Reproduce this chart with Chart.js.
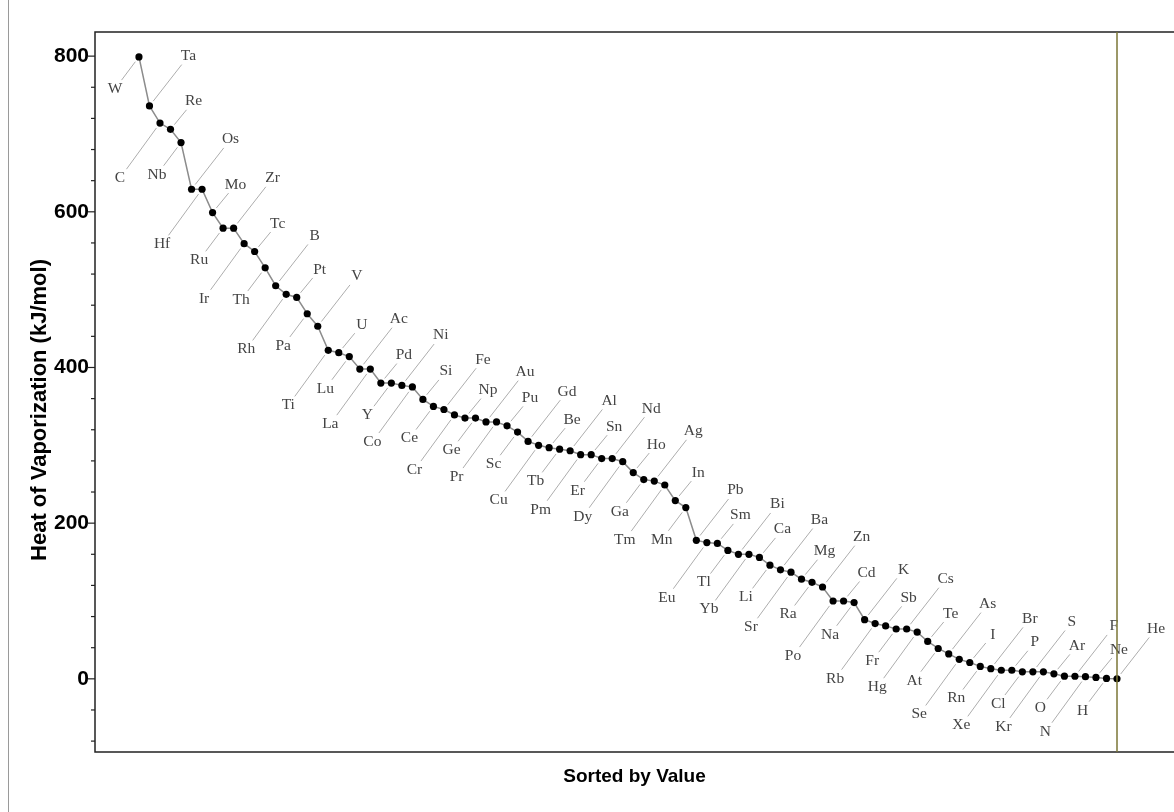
<!DOCTYPE html>
<html>
<head>
	<meta charset="UTF-8">
	<title>Heat of Vaporization</title>
	<script src="https://cdn.jsdelivr.net/npm/chart.js@4.4.1/dist/chart.umd.min.js"></script>
	<style>
		body {
			margin:0;
			padding:0;
			overflow: hidden;
			background: #fff;
		}
		#wrap {
			width:1174px;
			height:812px;
			position:relative;
		}
	</style>
</head>
<body>
	<div id="wrap"><canvas id="chart"></canvas></div>
	<script>
		// elements sorted by heat of vaporization (kJ/mol)
		const elements = ['W','Ta','C','Re','Nb','Os','Hf','Mo','Ru','Zr','Ir','Tc','Th','B','Rh','Pt','Pa','V','Ti','U',
			'Lu','Ac','La','Pd','Y','Ni','Co','Si','Ce','Fe','Cr','Np','Ge','Au','Pr','Pu','Sc','Gd','Cu','Be',
			'Tb','Al','Pm','Sn','Er','Nd','Dy','Ho','Ga','Ag','Tm','In','Mn','Pb','Eu','Sm','Tl','Bi','Yb','Ca',
			'Li','Ba','Sr','Mg','Ra','Zn','Po','Cd','Na','K','Rb','Sb','Fr','Cs','Hg','Te','At','As','Se','I',
			'Rn','Br','Xe','P','Cl','S','Kr','Ar','O','F','N','Ne','H','He'];
		const heatValues = [799,736,714,706,689,629,629,599,579,579,559,549,528,505,494,490,469,453,422,419,
			414,398,398,380,380,377,375,359,350,346,339,335,335,330,330,325,317,305,300,297,
			295,293,288,288,283,283,279,265,256,254,249,229,220,178,175,174,165,160,160,156,
			146,140,137,128,124,118,100,100,98,76,71,68,64,64,60,48,39,32,25,21,
			16,13,11,11,9,9,9,6.4,3.4,3.3,2.8,1.8,0.5,0.1];
		const yTickLabels = [0,200,400,600,800];
		const yMinorStep = 40;
		const yTitle = 'Heat of Vaporization (kJ/mol)';
		const xTitle = 'Sorted by Value';

		const points = heatValues.map((v,i)=>({x:i+1, y:v}));

		// label offsets cycle: below short, above long, below long, above short
		const labelOffsets = [[-24,32],[39,-50],[-40,55],[23,-28]];
		const sansBold = '"Liberation Sans", Arial, sans-serif';

		const elementLabels = {
			id:'elementLabels',
			beforeDatasetsDraw(chart){
				const ctx = chart.ctx;
				const meta = chart.getDatasetMeta(0);
				ctx.save();
				ctx.font = '15.5px "Liberation Serif", "DejaVu Serif", serif';
				ctx.textAlign = 'center';
				ctx.textBaseline = 'middle';
				meta.data.forEach((pt,i)=>{
					const off = labelOffsets[i%4];
					const len = Math.hypot(off[0],off[1]);
					const ux = off[0]/len, uy = off[1]/len;
					ctx.strokeStyle = '#adadad';
					ctx.lineWidth = 1;
					ctx.beginPath();
					ctx.moveTo(pt.x+ux*6, pt.y+uy*6);
					ctx.lineTo(pt.x+off[0]-ux*11, pt.y+off[1]-uy*11);
					ctx.stroke();
					ctx.fillStyle = '#444';
					ctx.fillText(elements[i], pt.x+off[0], pt.y+off[1]);
				});
				ctx.restore();
			}
		};

		const frame = {
			id:'frame',
			afterDraw(chart){
				const {ctx, chartArea:a, scales} = chart;
				ctx.save();
				// image border on the far left
				ctx.strokeStyle = '#9a9a9a';
				ctx.lineWidth = 1;
				ctx.beginPath();
				ctx.moveTo(8.5,0); ctx.lineTo(8.5,812);
				ctx.stroke();
				// frame
				ctx.strokeStyle = '#222';
				ctx.lineWidth = 1.5;
				ctx.beginPath();
				ctx.moveTo(a.right+2, a.top); ctx.lineTo(a.left, a.top);
				ctx.lineTo(a.left, a.bottom); ctx.lineTo(a.right+2, a.bottom);
				ctx.stroke();
				// y ticks, pointing out of the frame
				const y = scales.y;
				ctx.lineWidth = 1.2;
				y.ticks.forEach(t=>{
					const py = y.getPixelForValue(t.value);
					const major = yTickLabels.includes(t.value);
					ctx.beginPath();
					ctx.moveTo(a.left, py);
					ctx.lineTo(a.left-(major?7:4), py);
					ctx.stroke();
				});
				// vertical marker at the last element
				const px = scales.x.getPixelForValue(elements.length);
				ctx.strokeStyle = '#7b7636';
				ctx.lineWidth = 1.5;
				ctx.beginPath();
				ctx.moveTo(px, a.top); ctx.lineTo(px, a.bottom);
				ctx.stroke();
				// y title
				ctx.translate(40, 410);
				ctx.rotate(-Math.PI/2);
				ctx.fillStyle = '#000';
				ctx.font = 'bold 22px ' + sansBold;
				ctx.textAlign = 'center';
				ctx.textBaseline = 'middle';
				ctx.fillText(yTitle, 0, 0);
				ctx.restore();
			}
		};

		const ctx = document.getElementById('chart').getContext('2d');
		new Chart(ctx, {
			type:'line',
			data:{
				datasets:[{
					data:points,
					borderColor:'#8c8c8c',
					borderWidth:1.5,
					pointRadius:3.6,
					pointBackgroundColor:'#000',
					pointBorderWidth:0,
					tension:0
				}]
			},
			options:{
				responsive:true,
				maintainAspectRatio:false,
				animation:false,
				layout:{autoPadding:false, padding:{top:32,right:0,left:0,bottom:0}},
				plugins:{legend:{display:false}, tooltip:{enabled:false}},
				scales:{
					x:{
						type:'linear',
						min:-3.18,
						max:99.42,
						grid:{display:false, drawTicks:false},
						border:{display:false},
						ticks:{display:false},
						title:{
							display:true,
							text:xTitle,
							color:'#000',
							font:{family:sansBold, size:19, weight:'bold'},
							padding:{top:0,bottom:24}
						},
						afterFit(scale){ scale.height = 60; }
					},
					y:{
						min:-94,
						max:831,
						grid:{display:false, drawTicks:false, tickLength:0},
						border:{display:false},
						afterBuildTicks(scale){
							const ticks = [];
							for (let v = -80; v <= 800; v += yMinorStep) ticks.push({value:v});
							scale.ticks = ticks;
						},
						ticks:{
							autoSkip:false,
							padding:6,
							color:'#000',
							font:{family:sansBold, size:21, weight:'bold'},
							callback:v=> yTickLabels.includes(v) ? String(v) : ''
						},
						afterFit(scale){ scale.width = 95; }
					}
				}
			},
			plugins:[elementLabels, frame]
		});
	</script>
</body>
</html>
